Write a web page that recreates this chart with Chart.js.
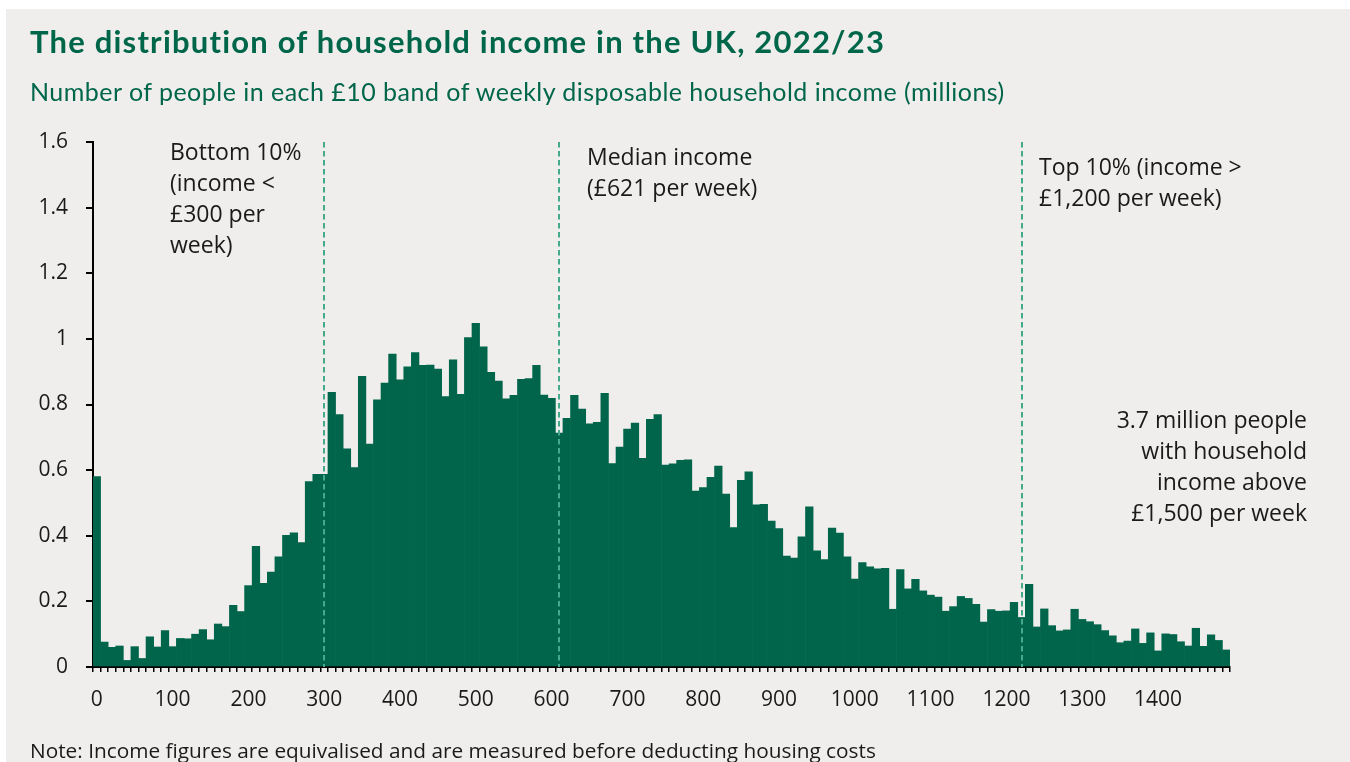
<!DOCTYPE html>
<html>
<head>
<meta charset="utf-8">
<script src="https://cdn.jsdelivr.net/npm/chart.js@4.4.1/dist/chart.umd.min.js"></script>
<style>
  html, body { margin: 0; padding: 0; background: #ffffff; }
  body { width: 1350px; height: 762px; position: relative; overflow: hidden; }
  #panel { position: absolute; left: 6px; top: 9px; right: 0; bottom: 0; background: #EFEEEC; }
  #chart { position: absolute; left: 0; top: 0; }
  .txt { position: absolute; white-space: nowrap; }
  #title { left: 30px; top: 23px; font: 700 31px/36px Lato, sans-serif; letter-spacing: 1.2px; color: #00664A; }
  #subtitle { left: 30px; top: 76px; font: 400 25px/30px Lato, sans-serif; letter-spacing: 0.48px; color: #00664A; }
  .note-a { font: 400 23px/31px "Open Sans", sans-serif; color: #1a1a1a; }
  #note { left: 30px; top: 737px; font: 400 20.8px/26px "Open Sans", sans-serif; color: #1a1a1a; }
</style>
</head>
<body>
<div id="panel"></div>
<canvas id="chart" width="1350" height="762"></canvas>
<div id="title" class="txt">The distribution of household income in the UK, 2022/23</div>
<div id="subtitle" class="txt">Number of people in each £10 band of weekly disposable household income (millions)</div>
<div class="txt note-a" style="left:170px; top:136px;">Bottom 10%<br>(income &lt;<br>£300 per<br>week)</div>
<div class="txt note-a" style="left:587px; top:141px;">Median income<br>(£621 per week)</div>
<div class="txt note-a" style="left:1039px; top:151px;">Top 10% (income &gt;<br>£1,200 per week)</div>
<div class="txt note-a" style="right:43px; top:404px; text-align:right;">3.7 million people<br>with household<br>income above<br>£1,500 per week</div>
<div id="note" class="txt">Note: Income figures are equivalised and are measured before deducting housing costs</div>

<script>
// Lower bound of each £10 weekly income band, £0 to £1,490
const bands = Array.from({ length: 150 }, (_, i) => String(i * 10));

// Millions of people in each band
const people = [
  0.580, 0.076, 0.060, 0.064, 0.020, 0.062, 0.026, 0.092, 0.061, 0.111,
  0.062, 0.087, 0.086, 0.100, 0.114, 0.083, 0.131, 0.123, 0.188, 0.169,
  0.248, 0.368, 0.255, 0.289, 0.336, 0.401, 0.409, 0.379, 0.565, 0.587,
  0.587, 0.837, 0.769, 0.665, 0.608, 0.886, 0.679, 0.814, 0.865, 0.954,
  0.875, 0.915, 0.958, 0.919, 0.920, 0.908, 0.824, 0.936, 0.831, 1.004,
  1.047, 0.976, 0.898, 0.871, 0.817, 0.828, 0.877, 0.879, 0.919, 0.829,
  0.819, 0.713, 0.758, 0.828, 0.786, 0.741, 0.746, 0.834, 0.620, 0.670,
  0.725, 0.743, 0.636, 0.755, 0.769, 0.615, 0.619, 0.630, 0.631, 0.536,
  0.547, 0.578, 0.612, 0.527, 0.425, 0.569, 0.595, 0.494, 0.496, 0.445,
  0.422, 0.338, 0.332, 0.397, 0.488, 0.354, 0.327, 0.423, 0.408, 0.336,
  0.268, 0.318, 0.305, 0.299, 0.301, 0.176, 0.297, 0.238, 0.267, 0.232,
  0.219, 0.213, 0.170, 0.184, 0.215, 0.209, 0.191, 0.137, 0.175, 0.170,
  0.171, 0.197, 0.151, 0.252, 0.122, 0.177, 0.126, 0.110, 0.113, 0.176,
  0.145, 0.138, 0.129, 0.111, 0.095, 0.074, 0.079, 0.116, 0.072, 0.104,
  0.049, 0.101, 0.099, 0.077, 0.064, 0.118, 0.063, 0.098, 0.081, 0.052
];

// Labelled bands on the horizontal axis
const xTickLabels = ['0', '100', '200', '300', '400', '500', '600', '700',
  '800', '900', '1000', '1100', '1200', '1300', '1400'];

// Bands marked with a dashed line: bottom 10%, median, top 10%
const markerBands = ['300', '610', '1220'];

const barColor = '#00654A';
const markerColor = '#45A98B';

const markerLines = {
  id: 'markerLines',
  afterDatasetsDraw(chart) {
    const { ctx, chartArea, scales } = chart;
    ctx.save();
    ctx.strokeStyle = markerColor;
    ctx.lineWidth = 2;
    ctx.setLineDash([5.5, 3.5]);
    markerBands.forEach(b => {
      const x = Math.round(scales.x.getPixelForValue(bands.indexOf(b)));
      ctx.beginPath();
      ctx.moveTo(x, chartArea.top);
      ctx.lineTo(x, chartArea.bottom);
      ctx.stroke();
    });
    ctx.restore();
  }
};

new Chart(document.getElementById('chart'), {
  type: 'bar',
  data: {
    labels: bands,
    datasets: [{
      data: people,
      backgroundColor: barColor,
      borderWidth: 0,
      barPercentage: 1,
      categoryPercentage: 1
    }]
  },
  options: {
    responsive: false,
    animation: false,
    events: [],
    layout: { padding: { left: 0, right: 120, top: 142, bottom: 0 } },
    plugins: { legend: { display: false }, tooltip: { enabled: false } },
    scales: {
      x: {
        type: 'category',
        offset: true,
        afterFit(scale) { scale.height = 95; },
        border: { display: true, color: '#000000', width: 2 },
        grid: {
          offset: true,
          drawOnChartArea: false,
          drawTicks: true,
          tickLength: 5,
          color: '#000000',
          lineWidth: 1.5
        },
        ticks: {
          autoSkip: false,
          maxRotation: 0,
          minRotation: 0,
          padding: 15,
          color: '#1a1a1a',
          font: { family: 'Open Sans', size: 21 },
          callback(value) {
            const lbl = this.getLabelForValue(value);
            return xTickLabels.includes(lbl) ? lbl : '';
          }
        }
      },
      y: {
        min: 0,
        max: 1.6,
        afterFit(scale) { scale.width = 93; },
        border: { display: true, color: '#000000', width: 2 },
        grid: {
          drawOnChartArea: false,
          drawTicks: true,
          tickLength: 7,
          color: '#000000',
          lineWidth: 2
        },
        ticks: {
          stepSize: 0.2,
          padding: 18,
          color: '#1a1a1a',
          font: { family: 'Open Sans', size: 21 },
          callback(value) { return String(Number(value.toFixed(1))); }
        }
      }
    }
  },
  plugins: [markerLines]
});
</script>
</body>
</html>
